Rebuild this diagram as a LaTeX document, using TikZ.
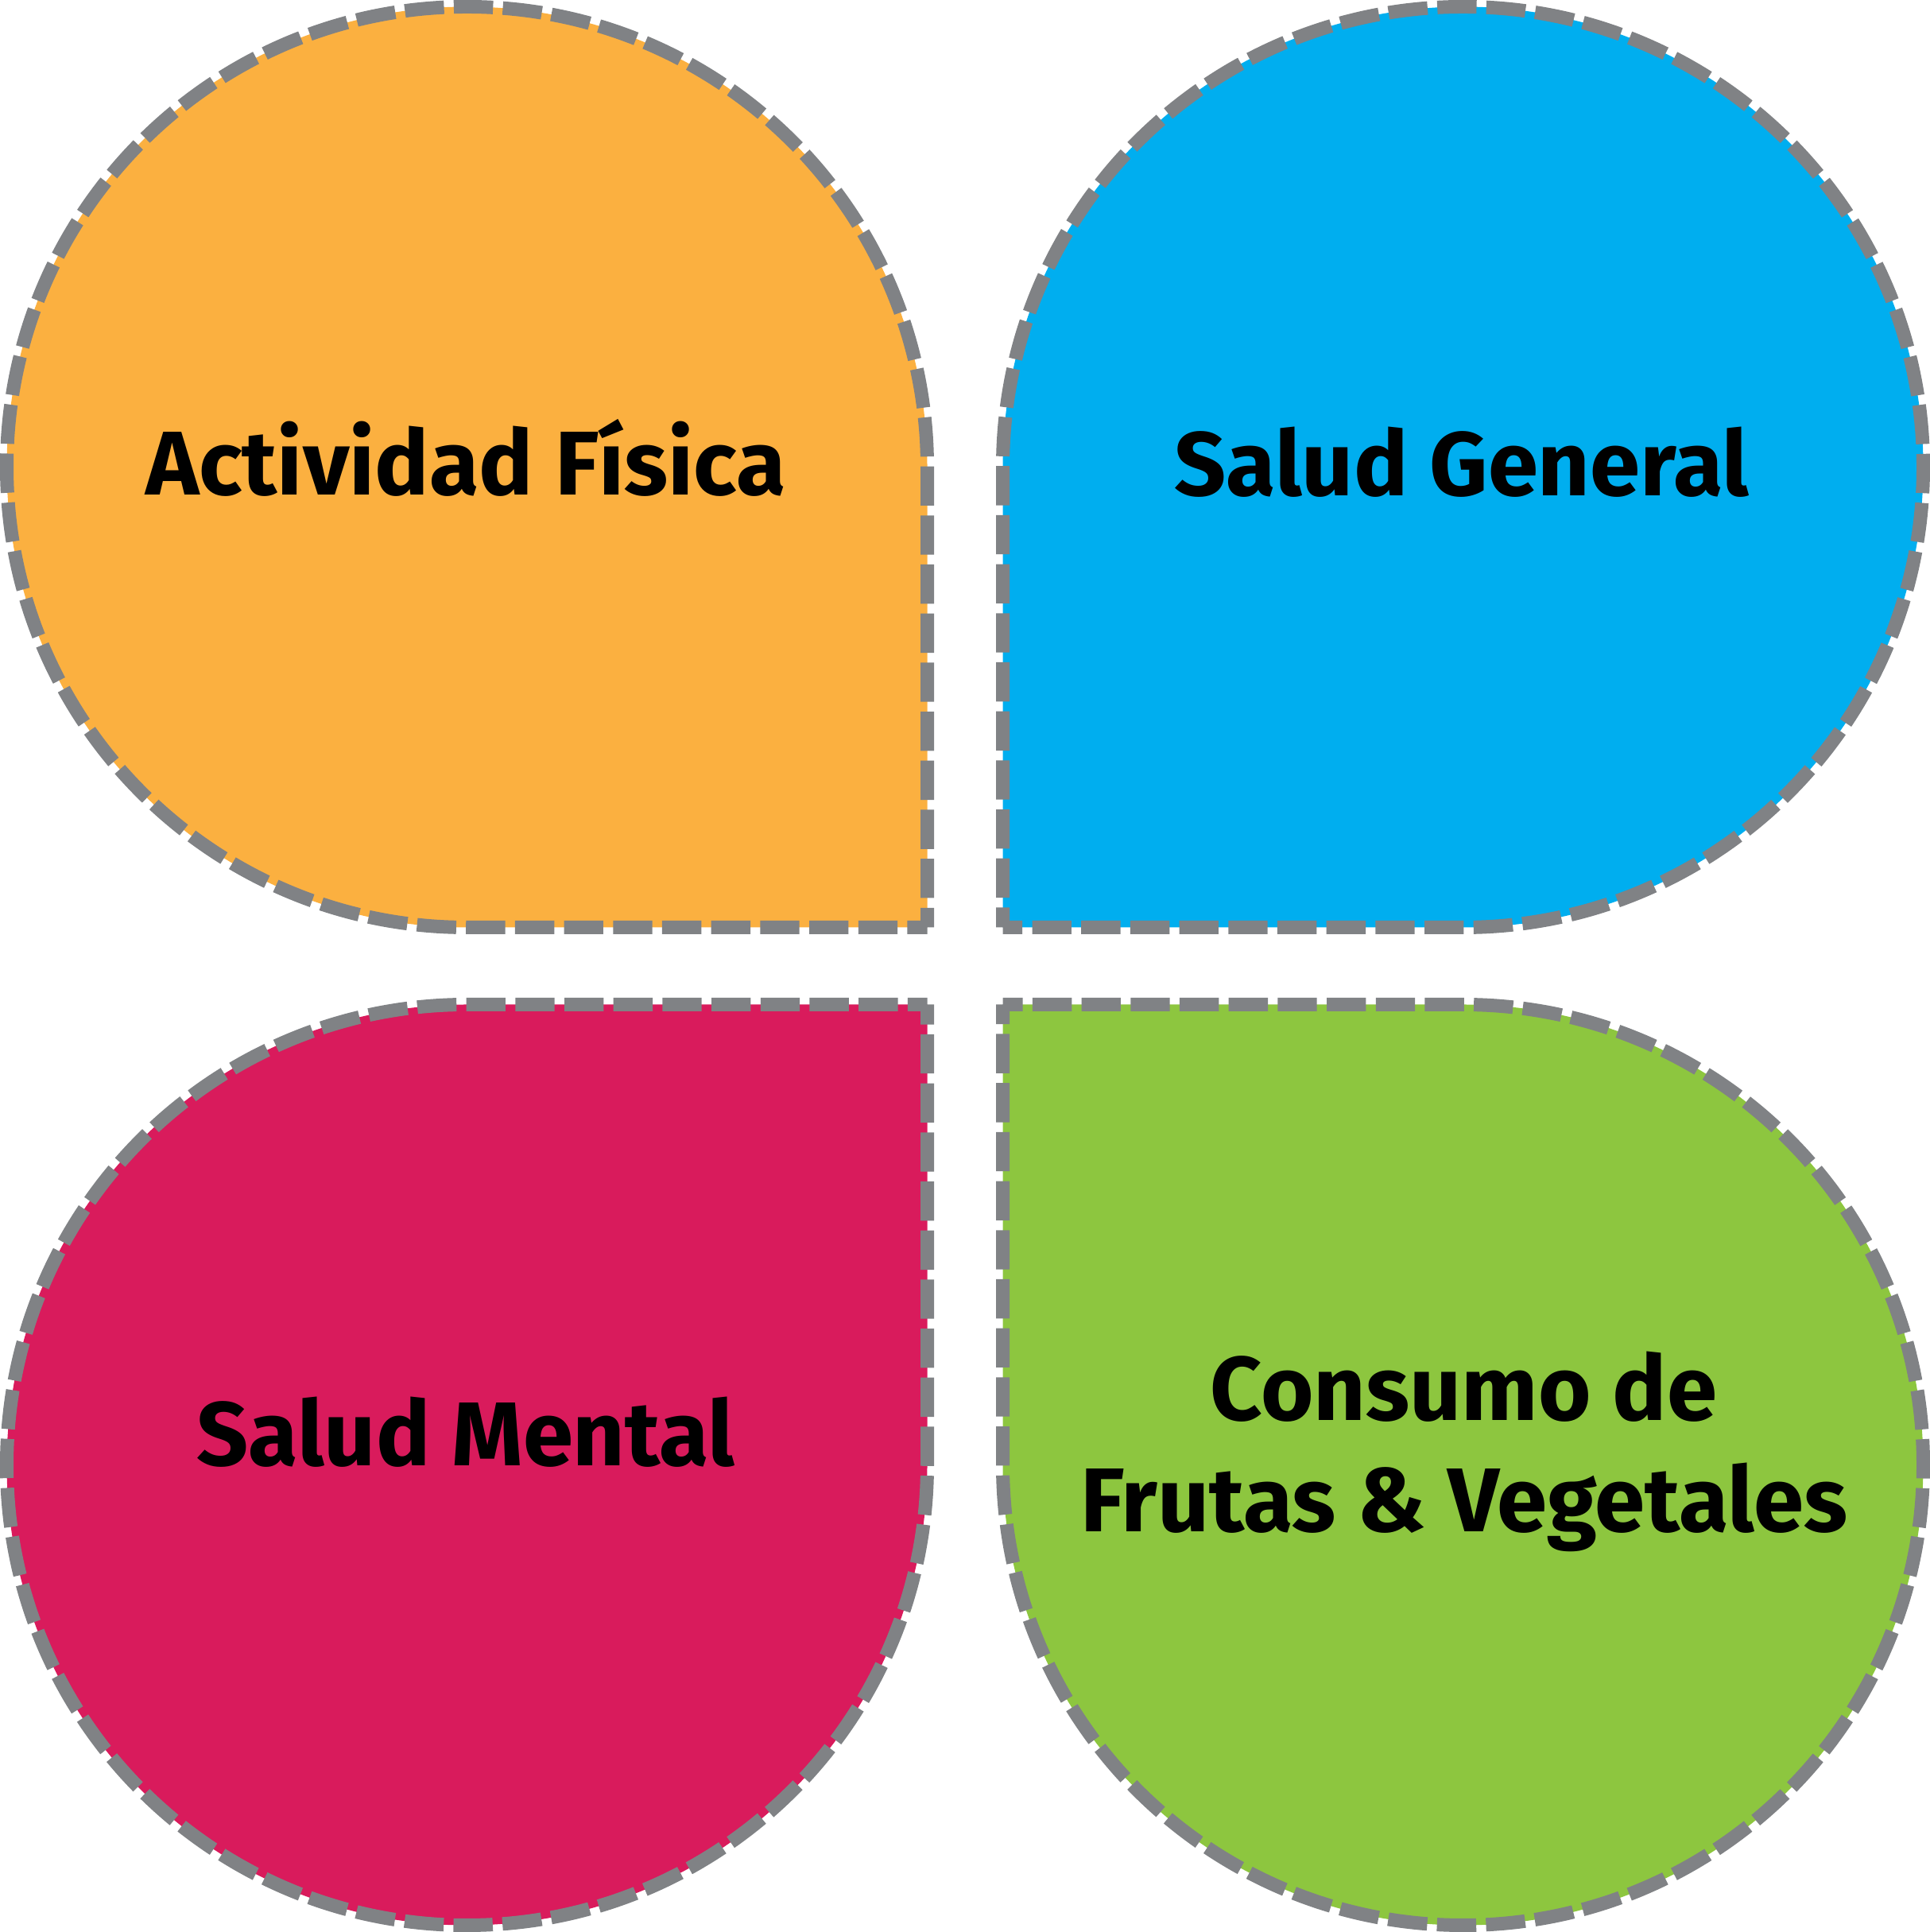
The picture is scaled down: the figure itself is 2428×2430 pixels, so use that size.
\documentclass[tikz,border=0pt]{standalone}
\usepackage{fontspec}
\setmainfont{Fira Sans}
\definecolor{cOrange}{HTML}{FBB040}
\definecolor{cBlue}{HTML}{00AEEF}
\definecolor{cMagenta}{HTML}{D91B5C}
\definecolor{cGreen}{HTML}{8DC63F}
\definecolor{cGray}{HTML}{808285}
\tikzset{
  leaf/.style={draw=cGray, line width=4.25pt, line join=miter,
    dash pattern=on 12.338pt off 3.0845pt, dash phase=6.169pt},
  lbl/.style={anchor=base, inner sep=0pt, text=black,
    font=\fontsize{28.5pt}{35pt}\selectfont\bfseries, align=center}
}
\begin{document}
\begin{tikzpicture}[x=0.25pt,y=0.25pt]
\useasboundingbox (0,0) rectangle (2428,2430);
% top-left
\path[leaf, fill=cOrange] (1166.5,1263.5) -- (1166.5,1842.5)
  arc[start angle=0, end angle=270, radius=579] -- cycle;
% top-right
\path[leaf, fill=cBlue] (1261.5,1263.5) -- (1840.5,1263.5)
  arc[start angle=-90, end angle=180, radius=579] -- cycle;
% bottom-left
\path[leaf, fill=cMagenta] (1166.5,1166.5) -- (587.5,1166.5)
  arc[start angle=90, end angle=360, radius=579] -- cycle;
% bottom-right
\path[leaf, fill=cGreen] (1261.5,1166.5) -- (1261.5,587.5)
  arc[start angle=180, end angle=450, radius=579] -- cycle;
\node[lbl] (af) at (586,1807) {Actividad Física};
\node[lbl] (sg) at (1839,1806) {Salud General};
\node[lbl] (sm) at (586,586) {Salud Mental};
\node[lbl] (cd) at (1841.5,643.5) {Consumo de};
\node[lbl] (fv) at (1842,503.5) {Frutas \& Vegetales};
\end{tikzpicture}
\end{document}
